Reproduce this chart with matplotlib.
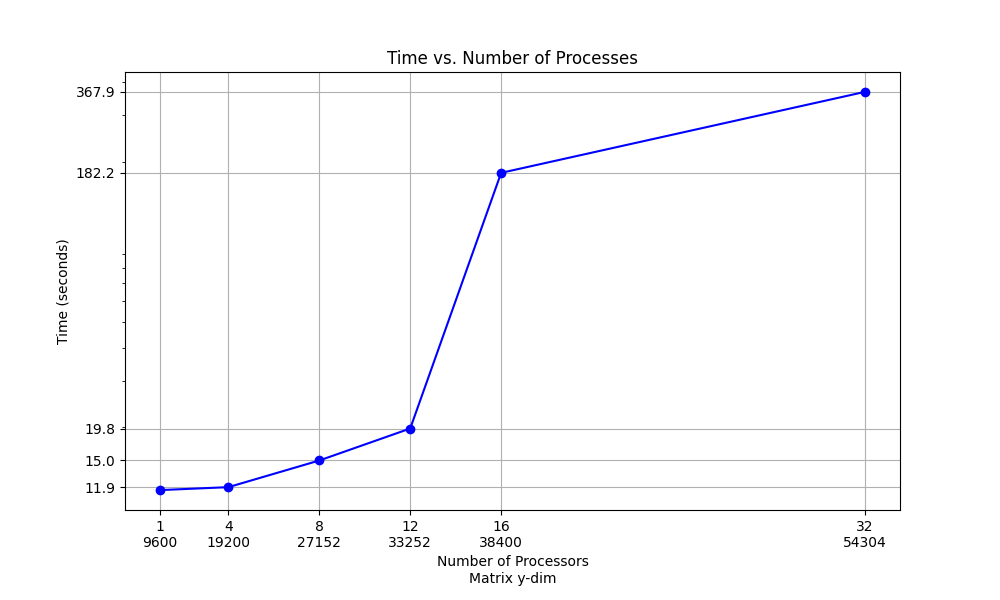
import matplotlib

matplotlib.use("Agg")

import matplotlib.pyplot as plt  # noqa: E402

processes = [1, 4, 8, 12, 16, 32]
ydims = [9600, 19200, 27152, 33252, 38400, 54304]
times = [11.6, 11.9, 15.0, 19.8, 182.2, 367.9]
ytick_vals = [11.9, 15.0, 19.8, 182.2, 367.9]

fig, ax = plt.subplots(figsize=(10, 6))
ax.plot(processes, times, "o-", color="blue")
ax.set_yscale("log")
ax.set_yticks(ytick_vals)
ax.set_yticklabels([f"{v:.1f}" for v in ytick_vals])
ax.set_xticks(processes)
ax.set_xticklabels([f"{p}\n{d}" for p, d in zip(processes, ydims)])
ax.set_title("Time vs. Number of Processes")
ax.set_xlabel("Number of Processors\nMatrix y-dim")
ax.set_ylabel("Time (seconds)")
ax.grid(True)
fig.subplots_adjust(bottom=0.15)
fig.savefig("out.png", dpi=100)
plt.close(fig)
